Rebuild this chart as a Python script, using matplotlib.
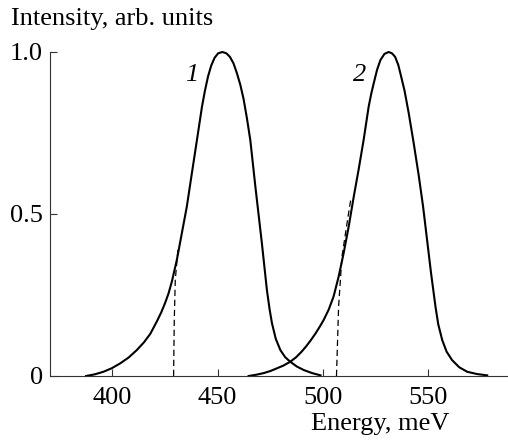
import numpy as np
import matplotlib.pyplot as plt

e1 = [387.5, 391.5, 395.7, 399.7, 403.7, 407.7, 411.6, 415.0, 418.0, 421.1,
      423.2, 425.1, 426.7, 428.3, 430.7, 433.0, 435.4, 437.8, 440.2, 442.6,
      444.0, 445.5, 447.0, 448.6, 450.3, 452.3, 454.2, 455.9, 457.6, 459.2,
      460.8, 462.4, 464.0, 465.6, 468.0, 471.1, 473.5, 474.8, 475.9, 477.7,
      479.9, 482.2, 484.6, 487.8, 491.0, 495.0, 499.0]
i1 = [0.0, 0.005, 0.013, 0.024, 0.039, 0.057, 0.08, 0.104, 0.13, 0.168,
      0.196, 0.226, 0.255, 0.292, 0.36, 0.44, 0.523, 0.626, 0.728, 0.831,
      0.88, 0.925, 0.958, 0.982, 0.996, 1.0, 0.996, 0.985, 0.965, 0.935,
      0.9, 0.855, 0.795, 0.728, 0.585, 0.41, 0.265, 0.205, 0.163, 0.115,
      0.08, 0.058, 0.044, 0.029, 0.0185, 0.009, 0.002]

e2 = [464.8, 468.5, 472.0, 475.0, 478.0, 481.3, 484.6, 487.4, 490.0, 492.1,
      494.1, 496.6, 498.9, 500.5, 502.9, 505.2, 507.6, 510.0, 512.4, 514.8,
      517.1, 519.5, 521.9, 523.1, 524.3, 525.9, 527.5, 529.4, 531.4, 533.0,
      534.5, 536.0, 537.0, 539.0, 541.0, 543.3, 545.7, 547.8, 549.7, 551.6,
      553.7, 555.0, 556.9, 559.0, 561.6, 565.0, 568.8, 573.5, 578.3]
i2 = [0.0, 0.004, 0.009, 0.015, 0.023, 0.032, 0.044, 0.058, 0.075, 0.091,
      0.108, 0.131, 0.155, 0.173, 0.205, 0.245, 0.306, 0.379, 0.461, 0.553,
      0.636, 0.728, 0.831, 0.87, 0.903, 0.945, 0.975, 0.994, 1.0, 0.996,
      0.985, 0.96, 0.934, 0.88, 0.81, 0.72, 0.62, 0.523, 0.42, 0.317,
      0.214, 0.16, 0.111, 0.075, 0.049, 0.027, 0.013, 0.006, 0.002]

# dashed extrapolations of the low-energy edges
d1_e = [429.1, 429.4, 429.9, 431.3]
d1_i = [0.0, 0.163, 0.296, 0.40]
d2_e = [506.6, 507.6, 509.2, 511.6, 513.4]
d2_i = [0.0, 0.214, 0.368, 0.471, 0.545]

xticks = [400, 450, 500, 550]
yticks = [0, 0.5, 1.0]
ytick_labels = ['0', '0.5', '1.0']

plt.rcParams['font.family'] = ['Liberation Serif', 'DejaVu Serif']
plt.rcParams['font.size'] = 19

fig = plt.figure(figsize=(5.08, 4.45), dpi=100)
ax = fig.add_axes([50 / 508, 69 / 445, 458 / 508, 324 / 445])

ax.plot(e1, i1, color='black', lw=1.5, clip_on=False)
ax.plot(e2, i2, color='black', lw=1.5, clip_on=False)
ax.plot(d1_e, d1_i, color='black', lw=0.9, linestyle=(0, (5, 3)))
ax.plot(d2_e, d2_i, color='black', lw=0.9, linestyle=(0, (5, 3)))

ax.text(437.5, 0.93, '1', style='italic', ha='center', va='center')
ax.text(517.5, 0.93, '2', style='italic', ha='center', va='center')

ax.set_xlim(370.3, 588.2)
ax.set_ylim(0, 1.0)
ax.set_xticks(xticks)
ax.set_yticks(yticks)
ax.set_yticklabels(ytick_labels)

for s in ['top', 'right']:
    ax.spines[s].set_visible(False)
for s in ['left', 'bottom']:
    ax.spines[s].set_linewidth(0.8)
    ax.spines[s].set_color('#333333')
ax.tick_params(direction='in', length=5, width=0.8, color='#333333')
ax.tick_params(axis='x', pad=8)
ax.tick_params(axis='y', pad=5)

ax.set_xlabel('Energy, meV')
ax.xaxis.set_label_coords((380 - 50) / 458, -0.115)
fig.text(11 / 508, 1 - 25 / 445, 'Intensity, arb. units', va='baseline', ha='left')

fig.savefig('out.png', dpi=100)
